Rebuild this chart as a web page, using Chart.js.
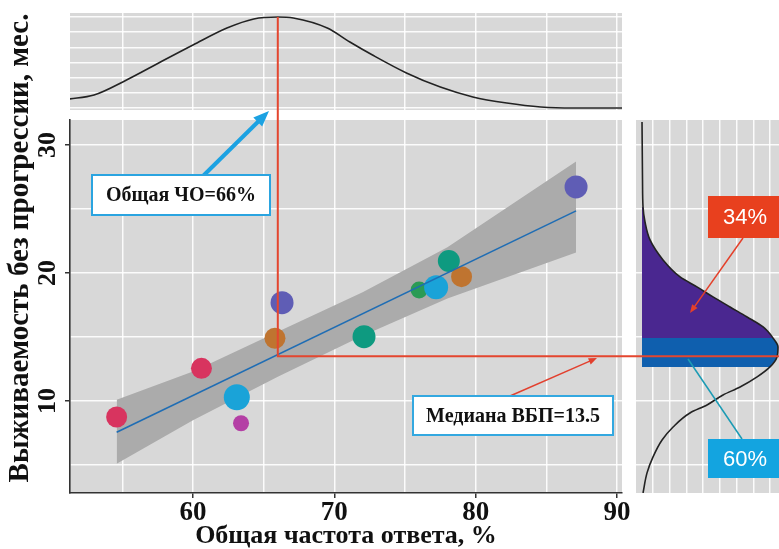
<!DOCTYPE html>
<html lang="ru">
<head>
<meta charset="UTF-8">
<title>ЧО и ВБП</title>
<script src="https://cdn.jsdelivr.net/npm/chart.js"></script>
<style>
  body { margin: 0; background: #fff; }
  .layer { position: absolute; left: 0; top: 0; }
</style>
</head>
<body>
<canvas id="topChart" class="layer" width="779" height="549"></canvas>
<canvas id="sideChart" class="layer" width="779" height="549"></canvas>
<canvas id="mainChart" class="layer" width="779" height="549"></canvas>

<script>
// trials: overall response rate (%) vs median PFS (months)
const orr    = [54.6, 60.6, 63.1, 63.4, 65.8, 66.3, 72.1, 76.0, 77.2, 78.1, 79.0, 87.1];
const pfs    = [8.75, 12.55, 10.29, 8.26, 14.9, 17.68, 15.02, 18.67, 18.88, 20.94, 19.71, 26.72];
const weight = [10.5, 10.5, 13, 8, 10.5, 11.5, 11.5, 8.5, 12, 11, 10.5, 11.5];
const trialColors = ['#D8345F', '#D8345F', '#1AA3D8', '#B43FA5', '#BF7430', '#5F5DB5',
                     '#0E9A80', '#2B9B55', '#1AA3D8', '#0E9A80', '#BF7430', '#5F5DB5'];

// linear fit and its confidence band
const fitX   = [54.6, 87.1];
const fitY   = [7.55, 24.85];
const bandX  = [54.6, 60, 66, 72, 78, 87.1];
const bandHi = [10.1, 12.3, 15.4, 18.5, 22.0, 28.7];
const bandLo = [5.1, 8.5, 11.9, 15.1, 18.0, 21.6];

// marginal density of ORR (top panel)
const topX    = [51.2, 53.0, 55.3, 57.7, 60.0, 62.4, 64.3, 66.0, 67.1, 69.5, 71.1, 72.7, 75.1, 77.5, 79.8, 82.2, 84.6, 86.9, 90.4];
const topDens = [0.0059, 0.0086, 0.0185, 0.0303, 0.0415, 0.0527, 0.0587, 0.0600, 0.0593, 0.0527, 0.0435, 0.0349, 0.0231, 0.0138, 0.0073, 0.0033, 0.0007, 0.0, 0.0];

// marginal density of PFS (right panel)
const sidePfs  = [2.81, 4.38, 5.63, 6.95, 7.97, 9.06, 9.69, 10.47, 11.09, 11.88, 12.66, 13.44, 14.22, 14.92, 15.78, 16.56, 17.34, 18.13, 18.91, 19.69, 21.02, 22.58, 23.98, 25.16, 27.27, 31.8];
const sideDens = [0.0006, 0.0030, 0.0066, 0.0120, 0.0186, 0.0287, 0.0389, 0.0485, 0.0587, 0.0689, 0.0766, 0.0808, 0.0814, 0.0784, 0.0725, 0.0629, 0.0527, 0.0425, 0.0329, 0.0228, 0.0126, 0.0048, 0.0018, 0.0006, 0.0003, 0.0];
const sideGrid = [0.0066, 0.0166, 0.0266, 0.0366, 0.0466, 0.0566, 0.0666, 0.0766];
const band60 = [12.66, 14.92];   // shaded blue
const band34 = [14.92, 25.16];   // shaded purple

const medianOrr = 66;
const medianPfs = 13.5;
const xTickLabels = [60, 70, 80, 90];
const yTickLabels = [10, 20, 30];

const X_MIN = 51.3, X_MAX = 90.35, Y_MIN = 2.81, Y_MAX = 31.95;
const PANEL = '#D8D8D8';
const GRID = 'rgba(255,255,255,0.9)';
const SERIF = '"Liberation Serif", "Times New Roman", serif';

Chart.defaults.animation = false;
Chart.defaults.plugins.legend.display = false;
Chart.defaults.plugins.tooltip.enabled = false;

const panelBg = {
  id: 'panelBg',
  beforeDraw(chart) {
    const a = chart.chartArea, ctx = chart.ctx;
    ctx.save();
    ctx.fillStyle = PANEL;
    ctx.fillRect(a.left, a.top, a.right - a.left, a.bottom - a.top);
    ctx.restore();
  }
};

function hiddenAxis(extra) {
  return Object.assign({
    type: 'linear',
    ticks: { display: false },
    grid: { color: GRID, lineWidth: 1.5, drawTicks: false },
    border: { display: false },
    afterFit(s) { if (s.isHorizontal()) s.height = 0; else s.width = 0; }
  }, extra);
}

// top panel
const topChart = new Chart(document.getElementById('topChart'), {
  type: 'scatter',
  data: {
    datasets: [{
      data: topX.map((x, i) => ({ x, y: topDens[i] })),
      showLine: true, borderColor: '#222', borderWidth: 1.6,
      pointRadius: 0, cubicInterpolationMode: 'monotone'
    }]
  },
  options: {
    responsive: false,
    layout: { padding: { left: 70, right: 157, top: 13, bottom: 439 } },
    scales: {
      x: hiddenAxis({ min: X_MIN, max: X_MAX, ticks: { display: false, stepSize: 5, includeBounds: false } }),
      y: hiddenAxis({ min: -0.0013, max: 0.0626, ticks: { display: false, stepSize: 0.01, includeBounds: false } })
    }
  },
  plugins: [panelBg]
});

// right panel
const sidePts = sidePfs.map((y, i) => ({ y, x: sideDens[i] }));
const inRange = r => sidePts.filter(p => p.y >= r[0] && p.y <= r[1]);
const curveStyle = { pointRadius: 0, cubicInterpolationMode: 'monotone' };
const sideChart = new Chart(document.getElementById('sideChart'), {
  type: 'line',
  data: {
    datasets: [
      Object.assign({ data: sidePts, borderColor: '#222', borderWidth: 1.6, fill: false, order: 0 }, curveStyle),
      Object.assign({ data: inRange(band60), borderWidth: 0, fill: 'origin', backgroundColor: '#0F5FAE', order: 1 }, curveStyle),
      Object.assign({ data: inRange(band34), borderWidth: 0, fill: 'origin', backgroundColor: '#4A2790', order: 2 }, curveStyle)
    ]
  },
  options: {
    responsive: false,
    indexAxis: 'y',
    layout: { padding: { left: 636, right: 0, top: 120, bottom: 56 } },
    scales: {
      x: hiddenAxis({ min: -0.0036, max: 0.082,
        afterBuildTicks(s) { s.ticks = sideGrid.map(v => ({ value: v })); } }),
      y: hiddenAxis({ min: Y_MIN, max: Y_MAX, ticks: { display: false, stepSize: 5, includeBounds: false } })
    }
  },
  plugins: [panelBg]
});

function arrow(ctx, x1, y1, x2, y2, color, width, head) {
  const ang = Math.atan2(y2 - y1, x2 - x1);
  ctx.save();
  ctx.strokeStyle = color; ctx.fillStyle = color; ctx.lineWidth = width;
  ctx.beginPath();
  ctx.moveTo(x1, y1);
  ctx.lineTo(x2 - Math.cos(ang) * head * 0.8, y2 - Math.sin(ang) * head * 0.8);
  ctx.stroke();
  ctx.beginPath();
  ctx.moveTo(x2, y2);
  ctx.lineTo(x2 - head * Math.cos(ang - 0.38), y2 - head * Math.sin(ang - 0.38));
  ctx.lineTo(x2 - head * Math.cos(ang + 0.38), y2 - head * Math.sin(ang + 0.38));
  ctx.closePath();
  ctx.fill();
  ctx.restore();
}

function labelBox(ctx, x, y, w, h, text, opt) {
  ctx.save();
  ctx.fillStyle = opt.fill;
  ctx.fillRect(x, y, w, h);
  if (opt.stroke) {
    ctx.strokeStyle = opt.stroke; ctx.lineWidth = 2;
    ctx.strokeRect(x, y, w, h);
  }
  ctx.fillStyle = opt.color;
  ctx.font = opt.font;
  ctx.textAlign = 'center';
  ctx.textBaseline = 'middle';
  ctx.fillText(text, opt.cx !== undefined ? opt.cx : x + w / 2, y + h / 2 + 1);
  ctx.restore();
}

// annotations, median lines and rotated y labels
const overlay = {
  id: 'overlay',
  afterDraw(chart) {
    const ctx = chart.ctx, xs = chart.scales.x, ys = chart.scales.y;
    const mx = xs.getPixelForValue(medianOrr);
    const my = ys.getPixelForValue(medianPfs);
    const peakY = topChart.scales.y.getPixelForValue(topDens[topX.indexOf(medianOrr)]);

    ctx.save();
    ctx.strokeStyle = '#E4462F';
    ctx.lineWidth = 2;
    ctx.beginPath();
    ctx.moveTo(mx, peakY);
    ctx.lineTo(mx, my);
    ctx.lineTo(779, my);
    ctx.stroke();

    // y tick labels and axis title
    ctx.fillStyle = '#111';
    ctx.textAlign = 'center';
    ctx.textBaseline = 'middle';
    ctx.font = 'bold 26px ' + SERIF;
    yTickLabels.forEach(v => {
      ctx.save();
      ctx.translate(48, ys.getPixelForValue(v));
      ctx.rotate(-Math.PI / 2);
      ctx.fillText(String(v), 0, 0);
      ctx.restore();
    });
    ctx.font = 'bold 29px ' + SERIF;
    ctx.translate(21, 248);
    ctx.rotate(-Math.PI / 2);
    ctx.fillText('Выживаемость без прогрессии, мес.', 0, 0);
    ctx.restore();

    // ORR call-out
    arrow(ctx, 203, 176, 269, 111, '#1CA2E2', 4, 17);
    labelBox(ctx, 92, 175, 178, 40, 'Общая ЧО=66%',
      { fill: '#fff', stroke: '#2AA4E0', color: '#111', font: 'bold 20px ' + SERIF });

    // PFS call-out
    arrow(ctx, 510, 396, 597, 358, '#E2402E', 1.5, 9);
    labelBox(ctx, 413, 396, 200, 39, 'Медиана ВБП=13.5',
      { fill: '#fff', stroke: '#33A8E0', color: '#111', font: 'bold 20px ' + SERIF });

    // shares of the PFS density
    arrow(ctx, 743, 238, 690, 313, '#E4402A', 1.5, 9);
    labelBox(ctx, 708, 196, 80, 42, '34%',
      { fill: '#E8401E', color: '#fff', font: '22px "Liberation Sans", Arial, sans-serif', cx: 745 });
    ctx.save();
    ctx.strokeStyle = '#1B9BB4'; ctx.lineWidth = 1.5;
    ctx.beginPath(); ctx.moveTo(742, 439); ctx.lineTo(688, 359); ctx.stroke();
    ctx.restore();
    labelBox(ctx, 708, 439, 80, 39, '60%',
      { fill: '#13A4E0', color: '#fff', font: '22px "Liberation Sans", Arial, sans-serif', cx: 745 });
  }
};

const mainChart = new Chart(document.getElementById('mainChart'), {
  type: 'bubble',
  data: {
    datasets: [
      { type: 'line', data: fitX.map((x, i) => ({ x, y: fitY[i] })),
        borderColor: '#1F6DB4', borderWidth: 1.6, pointRadius: 0, fill: false, order: 0 },
      { data: orr.map((x, i) => ({ x, y: pfs[i], r: weight[i] })),
        backgroundColor: trialColors, borderWidth: 0, order: 1 },
      { type: 'line', data: bandX.map((x, i) => ({ x, y: bandHi[i] })),
        borderWidth: 0, pointRadius: 0, fill: '+1', backgroundColor: '#ABABAB', order: 2 },
      { type: 'line', data: bandX.map((x, i) => ({ x, y: bandLo[i] })),
        borderWidth: 0, pointRadius: 0, fill: false, order: 3 }
    ]
  },
  options: {
    responsive: false,
    layout: { padding: { left: 0, right: 157, top: 120, bottom: 0 } },
    scales: {
      x: {
        type: 'linear', min: X_MIN, max: X_MAX,
        ticks: {
          stepSize: 5, includeBounds: false, padding: 2, color: '#111',
          font: { family: SERIF, size: 27, weight: 'bold', lineHeight: 1 },
          callback: v => xTickLabels.includes(v) ? String(v) : ''
        },
        grid: {
          color: GRID, lineWidth: 1.5, tickLength: 5,
          tickColor: c => (c.tick && xTickLabels.includes(c.tick.value)) ? '#333' : 'rgba(0,0,0,0)'
        },
        border: { color: '#333', width: 1.6 },
        title: {
          display: true, text: 'Общая частота ответа, %', color: '#111',
          font: { family: SERIF, size: 26, weight: 'bold', lineHeight: 1 },
          padding: { top: 0, bottom: 0 }
        },
        afterFit(s) { s.height = 56; }
      },
      y: {
        type: 'linear', min: Y_MIN, max: Y_MAX,
        ticks: { display: false, stepSize: 5, includeBounds: false },
        grid: {
          color: GRID, lineWidth: 1.5, tickLength: 5,
          tickColor: c => (c.tick && yTickLabels.includes(c.tick.value)) ? '#333' : 'rgba(0,0,0,0)'
        },
        border: { color: '#333', width: 1.6 },
        afterFit(s) { s.width = 70; }
      }
    }
  },
  plugins: [panelBg, overlay]
});
</script>
</body>
</html>
